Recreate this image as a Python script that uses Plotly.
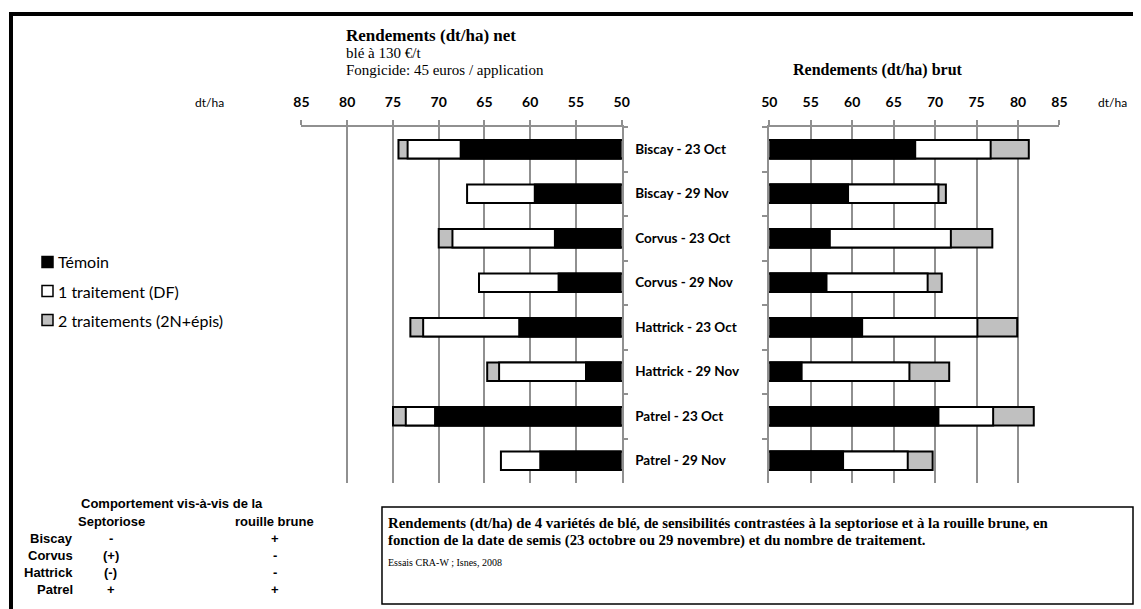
import plotly.graph_objects as go

# ---------------- data ----------------
categories = ["Biscay - 23 Oct", "Biscay - 29 Nov", "Corvus - 23 Oct", "Corvus - 29 Nov",
              "Hattrick - 23 Oct", "Hattrick - 29 Nov", "Patrel - 23 Oct", "Patrel - 29 Nov"]
temoin = [67.6, 59.5, 57.3, 56.9, 61.2, 53.9, 70.4, 58.9]
net_1t = [73.4, 66.9, 68.5, 65.6, 71.7, 63.4, 73.6, 63.2]
net_2t = [74.4, None, 70.0, None, 73.1, 64.7, 75.0, None]
brut_1t = [76.7, 70.4, 71.9, 69.1, 75.1, 66.9, 77.0, 66.7]
brut_2t = [81.3, 71.3, 76.9, 70.8, 79.9, 71.7, 81.9, 69.7]
tick_vals = [85, 80, 75, 70, 65, 60, 55, 50]
series_names = ["Témoin", "1 traitement (DF)", "2 traitements (2N+épis)"]
varieties = ["Biscay", "Corvus", "Hattrick", "Patrel"]
septoriose = ["-", "(+)", "(-)", "+"]
rouille = ["+", "-", "-", "+"]

# ---------------- style ----------------
W, H = 1141, 609
BLACK, WHITE, GRAY = "#000000", "#ffffff", "#c0c0c0"
GRID = "#909090"
SANS = "Lato"
SERIF = "Liberation Serif"
ARIAL = "Liberation Sans"


def px(x):
    # horizontal pixel position -> paper fraction (compensates slight horizontal offset/scale)
    return min(max((x - 8) / 0.986 / W, 0), 1)


def py(y):
    return 1 - y / H


fig = go.Figure()

for xa, ya, s1, s2 in [("x", "y", net_1t, net_2t), ("x2", "y2", brut_1t, brut_2t)]:
    for vals, col in [(s2, GRAY), (s1, WHITE), (temoin, BLACK)]:
        fig.add_bar(y=categories, x=vals, orientation="h", xaxis=xa, yaxis=ya,
                    marker=dict(color=col, line=dict(color="black", width=2)),
                    showlegend=False, hoverinfo="skip")

xcommon = dict(side="top", tickvals=tick_vals, showgrid=True, gridcolor=GRID, gridwidth=1.6,
               showline=True, linecolor=GRID, linewidth=1.6, ticks="outside", ticklen=5,
               tickcolor=GRID, tickwidth=1.6, zeroline=False, ticklabelstandoff=8,
               tickfont=dict(family=SANS, size=14, color="black", weight="bold"))
ycommon = dict(type="category", categoryorder="array", categoryarray=categories,
               autorange="reversed", tickson="boundaries", ticks="outside", ticklen=5,
               tickcolor=GRID, tickwidth=1.6, showline=True, linecolor=GRID, linewidth=1.6,
               showgrid=False, zeroline=False,
               domain=[py(483), py(127)])

fig.update_layout(
    width=W, height=H, margin=dict(l=0, r=0, t=0, b=0),
    paper_bgcolor="white", plot_bgcolor="white",
    barmode="overlay", bargap=0.58, showlegend=False,
    xaxis=dict(domain=[px(301.5), px(621.7)], range=[85, 50], anchor="y", **xcommon),
    yaxis=dict(anchor="x", side="right", ticklabelstandoff=9,
               tickfont=dict(family=SANS, size=13.5, color="black", weight="bold"), **ycommon),
    xaxis2=dict(domain=[px(769.3), px(1059.5)], range=[50, 85], anchor="y2", **xcommon),
    yaxis2=dict(anchor="x2", side="left", showticklabels=False, **ycommon),
)

shapes = [
    dict(type="line", xref="paper", yref="paper", x0=px(9), x1=1, y0=py(14), y1=py(14),
         line=dict(color="black", width=4)),
    dict(type="line", xref="paper", yref="paper", x0=px(11), x1=px(11), y0=py(12), y1=py(609),
         line=dict(color="black", width=4)),
    dict(type="rect", xref="paper", yref="paper", x0=px(382), x1=px(1137), y0=py(507), y1=py(604),
         line=dict(color="black", width=1.5), fillcolor="rgba(0,0,0,0)"),
]
ann = []


def text(x, y, t, size, family, bold=False, anchor="left", color="black"):
    ann.append(dict(xref="paper", yref="paper", x=px(x), y=py(y), text=t, showarrow=False,
                    xanchor=anchor, yanchor="middle",
                    font=dict(family=family, size=size, color=color,
                              weight="bold" if bold else "normal")))


# legend
for i, (name, col) in enumerate(zip(series_names, [BLACK, WHITE, GRAY])):
    yc = 262 + i * 29
    shapes.append(dict(type="rect", xref="paper", yref="paper", x0=px(42), x1=px(53),
                       y0=py(yc - 5.5), y1=py(yc + 5.5), fillcolor=col,
                       line=dict(color="black", width=1.5)))
    text(56, yc, name, 16, SANS)

# titles
text(344, 35, "Rendements (dt/ha) net", 17, SERIF, bold=True)
text(344, 53, "blé à 130 €/t", 15, SERIF)
text(344, 70, "Fongicide: 45 euros / application", 15, SERIF)
text(878, 70, "Rendements (dt/ha) brut", 16, SERIF, bold=True, anchor="center")
text(210, 102, "dt/ha", 12, SANS, anchor="center")
text(1113, 102, "dt/ha", 12, SANS, anchor="center")

# comportement table
text(172, 503, "Comportement vis-à-vis de la", 13, ARIAL, bold=True, anchor="center")
text(112, 521, "Septoriose", 13, ARIAL, bold=True, anchor="center")
text(275, 521, "rouille brune", 13, ARIAL, bold=True, anchor="center")
for i, (v, s, r) in enumerate(zip(varieties, septoriose, rouille)):
    yy = 538 + i * 17
    text(75, yy, v, 13, ARIAL, bold=True, anchor="right")
    text(111, yy, s, 13, ARIAL, bold=True, anchor="center")
    text(275, yy, r, 13, ARIAL, bold=True, anchor="center")

# caption box
text(386, 523, "Rendements (dt/ha) de 4 variétés de blé, de sensibilités contrastées à la septoriose "
               "et à la rouille brune, en", 14.8, SERIF, bold=True)
text(386, 540, "fonction de la date de semis (23 octobre ou 29 novembre) et du nombre de traitement.",
     14.8, SERIF, bold=True)
text(386, 562, "Essais CRA-W ; Isnes, 2008", 10, SERIF)

fig.update_layout(shapes=shapes, annotations=ann)

fig.write_html("out.html", config={"displayModeBar": False},
               post_script="document.documentElement.style.overflow='hidden';"
                           "document.body.style.margin='0';document.body.style.overflow='hidden';")
